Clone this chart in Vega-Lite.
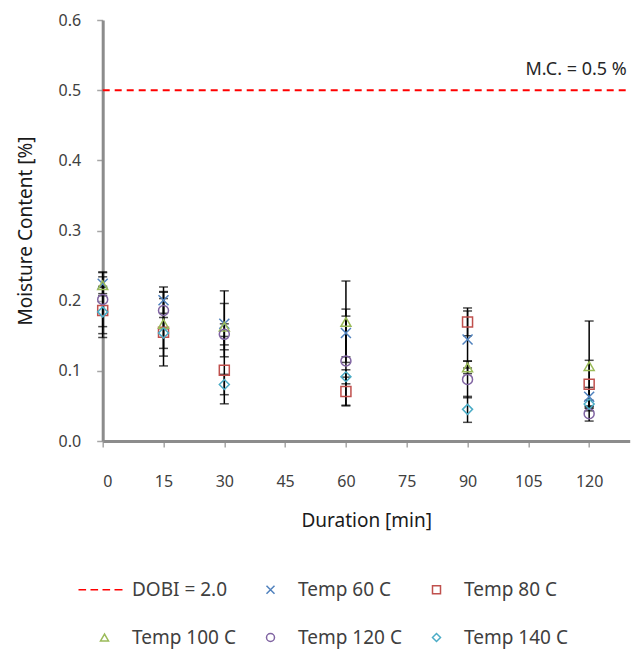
{
  "$schema": "https://vega.github.io/schema/vega-lite/v6.json",
  "width": 527,
  "height": 421,
  "autosize": {"type": "none"},
  "padding": {"left": 102.7, "top": 20, "right": 5.3, "bottom": 209},
  "background": "white",
  "config": {
    "view": {"stroke": null},
    "font": "Noto Sans",
    "axis": {
      "grid": false,
      "domainColor": "#8C8C8C",
      "domainWidth": 3,
      "tickColor": "#A6A6A6",
      "tickWidth": 1.5,
      "tickSize": 6,
      "labelFont": "Noto Sans",
      "labelFontSize": 16,
      "labelColor": "#404040",
      "titleFont": "Noto Sans",
      "titleFontSize": 19,
      "titleFontWeight": "normal",
      "titleColor": "#1A1A1A"
    }
  },
  "datasets": {
    "pts": [
      {"series": "Temp 60 C", "Duration": 0, "MC": 0.224, "lo": 0.207, "hi": 0.241},
      {"series": "Temp 60 C", "Duration": 15, "MC": 0.2006, "lo": 0.182, "hi": 0.2195},
      {"series": "Temp 60 C", "Duration": 30, "MC": 0.167, "lo": 0.120, "hi": 0.214},
      {"series": "Temp 60 C", "Duration": 60, "MC": 0.154, "lo": 0.120, "hi": 0.188},
      {"series": "Temp 60 C", "Duration": 90, "MC": 0.1447, "lo": 0.104, "hi": 0.1853},
      {"series": "Temp 60 C", "Duration": 120, "MC": 0.063, "lo": 0.0496, "hi": 0.0764},
      {"series": "Temp 80 C", "Duration": 0, "MC": 0.186, "lo": 0.153, "hi": 0.219},
      {"series": "Temp 80 C", "Duration": 15, "MC": 0.155, "lo": 0.107, "hi": 0.203},
      {"series": "Temp 80 C", "Duration": 30, "MC": 0.101, "lo": 0.053, "hi": 0.149},
      {"series": "Temp 80 C", "Duration": 60, "MC": 0.0707, "lo": 0.051, "hi": 0.091},
      {"series": "Temp 80 C", "Duration": 90, "MC": 0.1697, "lo": 0.150, "hi": 0.1896},
      {"series": "Temp 80 C", "Duration": 120, "MC": 0.081, "lo": 0.047, "hi": 0.115},
      {"series": "Temp 100 C", "Duration": 0, "MC": 0.222, "lo": 0.210, "hi": 0.234},
      {"series": "Temp 100 C", "Duration": 15, "MC": 0.167, "lo": 0.121, "hi": 0.213},
      {"series": "Temp 100 C", "Duration": 30, "MC": 0.163, "lo": 0.130, "hi": 0.196},
      {"series": "Temp 100 C", "Duration": 60, "MC": 0.1697, "lo": 0.112, "hi": 0.228},
      {"series": "Temp 100 C", "Duration": 90, "MC": 0.1048, "lo": 0.096, "hi": 0.1138},
      {"series": "Temp 100 C", "Duration": 120, "MC": 0.1067, "lo": 0.043, "hi": 0.171},
      {"series": "Temp 120 C", "Duration": 0, "MC": 0.2016, "lo": 0.163, "hi": 0.240},
      {"series": "Temp 120 C", "Duration": 15, "MC": 0.186, "lo": 0.160, "hi": 0.212},
      {"series": "Temp 120 C", "Duration": 30, "MC": 0.152, "lo": 0.137, "hi": 0.167},
      {"series": "Temp 120 C", "Duration": 60, "MC": 0.114, "lo": 0.050, "hi": 0.178},
      {"series": "Temp 120 C", "Duration": 90, "MC": 0.0878, "lo": 0.0616, "hi": 0.114},
      {"series": "Temp 120 C", "Duration": 120, "MC": 0.039, "lo": 0.0284, "hi": 0.0496},
      {"series": "Temp 140 C", "Duration": 0, "MC": 0.184, "lo": 0.1475, "hi": 0.2205},
      {"series": "Temp 140 C", "Duration": 15, "MC": 0.154, "lo": 0.132, "hi": 0.176},
      {"series": "Temp 140 C", "Duration": 30, "MC": 0.0806, "lo": 0.066, "hi": 0.095},
      {"series": "Temp 140 C", "Duration": 60, "MC": 0.0915, "lo": 0.0815, "hi": 0.1015},
      {"series": "Temp 140 C", "Duration": 90, "MC": 0.0451, "lo": 0.0266, "hi": 0.0636},
      {"series": "Temp 140 C", "Duration": 120, "MC": 0.0526, "lo": 0.047, "hi": 0.058}
    ],
    "limit": [
      {"Duration": 0, "end": 130, "MC": 0.5, "label": "M.C. = 0.5 %", "labelAt": 130}
    ]
  },
  "layer": [
    {
      "data": {"name": "limit"},
      "mark": {"type": "rule", "color": "#FF0000", "strokeWidth": 2, "strokeDash": [7, 5]},
      "encoding": {
        "x": {"field": "Duration", "type": "quantitative", "scale": {"domain": [0, 130]}, "title": "Duration [min]"},
        "x2": {"field": "end"},
        "y": {"field": "MC", "type": "quantitative", "scale": {"domain": [0, 0.6]}, "title": "Moisture Content [%]"}
      }
    },
    {
      "data": {"name": "limit"},
      "mark": {"type": "text", "align": "right", "baseline": "alphabetic", "dx": -3, "dy": -15, "fontSize": 18, "color": "#262626", "font": "Noto Sans"},
      "encoding": {
        "x": {"field": "labelAt", "type": "quantitative", "title": "Duration [min]"},
        "y": {"field": "MC", "type": "quantitative", "title": "Moisture Content [%]"},
        "text": {"field": "label"}
      }
    },
    {
      "data": {"name": "pts"},
      "mark": {"type": "errorbar", "color": "black", "ticks": {"size": 9, "thickness": 1.5, "color": "black"}, "rule": {"strokeWidth": 1.5, "color": "black"}},
      "encoding": {
        "x": {"field": "Duration", "type": "quantitative", "title": "Duration [min]"},
        "y": {"field": "lo", "type": "quantitative", "title": "Moisture Content [%]"},
        "y2": {"field": "hi"}
      }
    },
    {
      "data": {"name": "pts"},
      "mark": {"type": "point", "filled": false, "size": 100, "strokeWidth": 1.5, "opacity": 1},
      "encoding": {
        "x": {
          "field": "Duration", "type": "quantitative", "title": "Duration [min]",
          "axis": {"values": [0, 15, 30, 45, 60, 75, 90, 105, 120], "labelPadding": 26, "titlePadding": 22}
        },
        "y": {
          "field": "MC", "type": "quantitative", "title": "Moisture Content [%]",
          "axis": {"values": [0, 0.1, 0.2, 0.3, 0.4, 0.5, 0.6], "format": ".1f", "labelPadding": 16, "titlePadding": 23}
        },
        "color": {
          "field": "series", "type": "nominal",
          "scale": {
            "domain": ["DOBI = 2.0", "Temp 60 C", "Temp 80 C", "Temp 100 C", "Temp 120 C", "Temp 140 C"],
            "range": ["#FF0000", "#4F81BD", "#C0504D", "#9BBB59", "#8064A2", "#4BACC6"]
          },
          "legend": {
            "orient": "none", "legendX": -7.7, "legendY": 560, "columns": 3, "direction": "horizontal",
            "title": null, "padding": 0, "symbolSize": 64, "symbolStrokeWidth": 1.5,
            "labelFontSize": 19, "labelColor": "#404040", "labelFont": "Noto Sans", "labelOffset": 18,
            "columnPadding": 25, "rowPadding": 28, "gridAlign": "all"
          }
        },
        "shape": {
          "field": "series", "type": "nominal",
          "scale": {
            "domain": ["DOBI = 2.0", "Temp 60 C", "Temp 80 C", "Temp 100 C", "Temp 120 C", "Temp 140 C"],
            "range": ["M-6.5,0H-4.6M-3.5,0H-1.6M-0.5,0H1.4M2.5,0H4.5", "M-1,-1L1,1M-1,1L1,-1", "square", "triangle-up", "circle", "diamond"]
          },
          "legend": {
            "orient": "none", "legendX": -7.7, "legendY": 560, "columns": 3, "direction": "horizontal",
            "title": null, "padding": 0, "symbolSize": 64, "symbolStrokeWidth": 1.5,
            "labelFontSize": 19, "labelColor": "#404040", "labelFont": "Noto Sans", "labelOffset": 18,
            "columnPadding": 25, "rowPadding": 28, "gridAlign": "all"
          }
        }
      }
    }
  ]
}
